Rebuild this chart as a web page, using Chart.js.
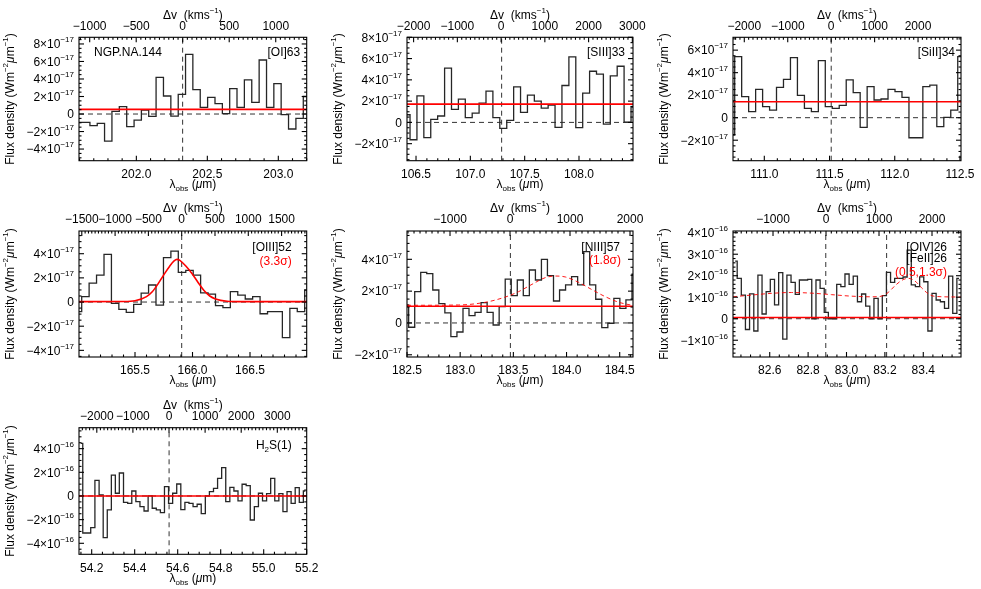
<!DOCTYPE html>
<html><head><meta charset="utf-8">
<script src="https://cdn.jsdelivr.net/npm/chart.js@4.4.1/dist/chart.umd.min.js"></script>
<style>
html,body{margin:0;padding:0;background:#fff;}
#wrap{position:relative;width:981px;height:589px;overflow:hidden;background:#fff;}
#wrap canvas{position:absolute;left:0;top:0;}
</style></head><body><div id="wrap"></div>
<script>
// ================= DATA (flux values in units of 10^exp W m^-2 um^-1) =================
// Panel 1: [OI]63
const p1Lambda = [201.595,201.647,201.699,201.750,201.802,201.854,201.906,201.958,202.010,202.061,202.113,202.165,202.217,202.269,202.321,202.372,202.424,202.476,202.528,202.580,202.632,202.683,202.735,202.787,202.839,202.891,202.943,202.994,203.046,203.098,203.150,203.202];
const p1Flux = [-0.95,-0.95,-1.33,-1.07,-3.09,0.3,0.84,-1.45,-0.69,0.46,-0.27,4.19,2.06,-0.23,2.25,6.82,2.78,0.76,1.9,1.18,0.04,2.9,0.76,3.89,1.33,6.17,0.76,3.47,-0.08,-1.71,-0.5,2.0];
const p1Continuum = 0.53;
const p1RestLambda = [202.326];
const p1XTicks = [202.0,202.5,203.0];
const p1YTicks = [-4,-2,0,2,4,6,8];
const p1VTicks = [-1000,-500,0,500,1000];

// Panel 2: [SIII]33
const p2Lambda = [106.413,106.477,106.540,106.604,106.667,106.731,106.795,106.858,106.922,106.985,107.049,107.112,107.176,107.239,107.303,107.367,107.430,107.494,107.557,107.621,107.684,107.748,107.811,107.875,107.939,108.002,108.066,108.129,108.193,108.256,108.320,108.383,108.447,108.511];
const p2Flux = [0.72,-1.63,2.5,-1.44,0.28,0.6,5.1,1.22,2.19,0.44,0.88,1.81,2.94,0.44,-0.56,0.19,3.34,0.94,2.56,2.0,1.34,1.63,-0.47,3.47,6.16,-0.5,2.75,4.81,4.53,-0.16,4.38,5.28,0.03,1.44];
const p2Continuum = 1.72;
const p2RestLambda = [107.288];
const p2XTicks = [106.5,107.0,107.5,108.0,108.5];
const p2YTicks = [-2,0,2,4,6,8];
const p2VTicks = [-2000,-1000,0,1000,2000,3000];

// Panel 3: [SiII]34
const p3Lambda = [110.746,110.800,110.853,110.907,110.960,111.014,111.067,111.120,111.174,111.227,111.281,111.334,111.388,111.441,111.494,111.548,111.601,111.655,111.708,111.762,111.815,111.868,111.922,111.975,112.029,112.082,112.136,112.189,112.242,112.296,112.349,112.403,112.456,112.510];
const p3Flux = [-1.54,5.42,1.87,0.53,2.52,0.98,0.68,2.7,3.41,5.33,1.99,0.83,0.53,5.07,0.98,0.83,1.1,3.35,2.22,-0.86,2.76,1.57,1.66,2.52,2.31,1.81,-1.78,-1.78,2.76,2.9,-0.8,0.03,0.68,5.42];
const p3Continuum = 1.42;
const p3RestLambda = [111.513];
const p3XTicks = [111.0,111.5,112.0,112.5];
const p3YTicks = [-2,0,2,4,6];
const p3VTicks = [-2000,-1000,0,1000,2000];

// Panel 4: [OIII]52
const p4Lambda = [165.004,165.069,165.133,165.198,165.263,165.327,165.392,165.456,165.521,165.586,165.650,165.715,165.780,165.844,165.909,165.974,166.038,166.103,166.168,166.232,166.297,166.361,166.426,166.491,166.555,166.620,166.685,166.749,166.814,166.879,166.943,167.008];
const p4Flux = [-0.8,0.44,1.57,2.23,3.94,-0.11,-0.61,-0.86,-0.19,0.74,1.41,-0.25,3.67,4.22,2.46,2.62,2.23,0.75,0.65,-0.3,-0.47,0.86,0.58,0.25,0.44,-0.97,-0.8,-0.8,-2.95,-0.52,-0.8,0.99];
const p4FitLambda = [165.013,165.4,165.5,165.6,165.65,165.7,165.75,165.8,165.84,165.865,165.89,165.94,166.0,166.05,166.1,166.15,166.2,166.3,166.4,166.993];
const p4FitFlux = [0.03,0.04,0.1,0.45,0.85,1.5,2.25,2.95,3.4,3.53,3.45,3.0,2.3,1.6,0.95,0.5,0.25,0.06,0.03,0.03];
const p4RestLambda = [165.906];
const p4XTicks = [165.0,165.5,166.0,166.5,167.0];
const p4YTicks = [-4,-2,0,2,4];
const p4VTicks = [-1500,-1000,-500,0,500,1000,1500];

// Panel 5: [NIII]57
const p5Lambda = [182.487,182.544,182.601,182.657,182.714,182.771,182.828,182.884,182.941,182.998,183.055,183.111,183.168,183.225,183.282,183.338,183.395,183.452,183.509,183.565,183.622,183.679,183.736,183.792,183.849,183.906,183.963,184.019,184.076,184.133,184.190,184.246,184.303,184.360,184.417,184.473,184.530,184.587,184.644];
const p5Flux = [1.13,-0.27,1.97,3.18,3.1,2.07,1.21,0.63,-0.86,-0.57,0.92,0.46,0.67,1.28,0.67,-0.13,1.03,2.76,1.72,2.7,1.72,3.33,2.7,4.0,2.97,1.38,2.07,2.39,2.91,2.39,4.48,2.39,1.49,-0.29,-0.02,1.55,0.92,1.45,3.06];
const p5FitLambda = [182.5,182.986,183.237,183.425,183.550,183.676,183.801,183.895,183.989,184.114,184.240,184.365,184.491,184.632];
const p5FitFlux = [1.11,1.13,1.3,1.63,1.97,2.43,2.85,2.95,2.89,2.55,2.09,1.65,1.3,1.09];
const p5Continuum = 1.05;
const p5RestLambda = [183.472];
const p5XTicks = [182.5,183.0,183.5,184.0,184.5];
const p5YTicks = [-2,0,2,4];
const p5VTicks = [-1000,0,1000,2000];

// Panel 6: [OIV]26 / [FeII]26
const p6Lambda = [82.420,82.441,82.463,82.484,82.506,82.528,82.549,82.571,82.592,82.614,82.636,82.657,82.679,82.700,82.722,82.744,82.765,82.787,82.808,82.830,82.852,82.873,82.895,82.916,82.938,82.960,82.981,83.003,83.024,83.046,83.068,83.089,83.111,83.132,83.154,83.176,83.197,83.219,83.240,83.262,83.284,83.305,83.327,83.348,83.370,83.392,83.413,83.435,83.456,83.478,83.500,83.521,83.543,83.564,83.586];
const p6Flux = [2.68,1.88,1.1,-0.5,1.16,-0.57,2.03,0.22,1.26,1.83,0.64,2.14,-0.95,2.03,1.69,1.13,1.8,1.8,1.83,0,1.8,1.41,0.3,0,0,1.6,1.49,2.08,1.6,1.98,0.79,1.15,0.59,0,0.95,0,1.07,2.16,1.69,1.88,1.88,1.94,3.19,1.57,1.49,1.95,1.72,-0.57,1.18,0.87,0.79,0.48,1.98,0.25,1.88];
const p6FitLambda = [82.409,82.504,82.609,82.713,82.817,82.922,83.026,83.130,83.183,83.217,83.252,83.287,83.322,83.357,83.391,83.426,83.461,83.597];
const p6FitFlux = [1.02,1.10,1.18,1.22,1.19,1.12,1.05,1.02,1.05,1.22,1.53,1.78,1.88,1.75,1.44,1.16,1.04,1.01];
const p6Continuum = 0.06;
const p6RestLambda = [82.892,83.209];
const p6XTicks = [82.6,82.8,83.0,83.2,83.4,83.6];
const p6YTicks = [-1,0,1,2,3,4];
const p6VTicks = [-1000,0,1000,2000];

// Panel 7: H2 S(1)
const p7Lambda = [54.149,54.168,54.186,54.205,54.225,54.244,54.263,54.282,54.301,54.319,54.338,54.358,54.377,54.396,54.415,54.434,54.453,54.472,54.491,54.510,54.529,54.548,54.567,54.586,54.605,54.624,54.643,54.662,54.681,54.700,54.719,54.738,54.757,54.776,54.795,54.814,54.833,54.852,54.871,54.890,54.909,54.928,54.947,54.966,54.985,55.004,55.023,55.042,55.061,55.080,55.099,55.118,55.137,55.156,55.175,55.194];
const p7Flux = [4.45,-3.13,-3.13,-2.68,1.32,0.08,-3.52,-1.18,1.77,0.23,1.94,-0.54,-0.62,0.42,-0.48,-0.9,-1.27,0,-1.04,-1.18,-1.41,0.79,-0.62,0.23,1.01,-1.15,-0.54,-0.62,-0.9,-0.7,-1.49,0,0.37,0.65,1.49,2.39,-0.48,0.73,0.42,-0.42,0.99,0.87,-2.03,-0.9,0.23,-0.42,0.2,1.49,-0.42,0.2,-1.32,0.37,-0.62,0.7,-0.54,0.42];
const p7Continuum = 0;
const p7RestLambda = [54.560];
const p7XTicks = [54.2,54.4,54.6,54.8,55.0,55.2];
const p7YTicks = [-4,-2,0,2,4];
const p7VTicks = [-2000,-1000,0,1000,2000,3000];

// ================= LAYOUT / STYLE =================
const W = 981, H = 589;
const FONT = '"Liberation Sans", Arial, Helvetica, sans-serif';
const FS = 12;
const SUP = 8;

const panels = [
 {id:1, box:[79,37.3,306.7,160.7], lam:p1Lambda, flux:p1Flux, exp:-17, xr:[201.596,203.2], yr:[-5.33,8.76], vr:[-1115,1333],
  xTicks:p1XTicks, yTicks:p1YTicks, vTicks:p1VTicks, xMinor:5, yMinor:4, vMinor:10, cont:p1Continuum, rest:p1RestLambda,
  texts:[{parts:[{t:'NGP.NA.144'}], side:'left', dx:15, dy:14.5},{parts:[{t:'[OI]63'}], side:'right', dx:6.5, dy:14.5}]},
 {id:2, box:[407,37.3,633,160.7], lam:p2Lambda, flux:p2Flux, exp:-17, xr:[106.417,108.497], yr:[-3.6,8.0], vr:[-2151,3015],
  xTicks:p2XTicks, yTicks:p2YTicks, vTicks:p2VTicks, xMinor:5, yMinor:4, vMinor:10, cont:p2Continuum, rest:p2RestLambda,
  texts:[{parts:[{t:'[SIII]33'}], side:'right', dx:8, dy:14.5}]},
 {id:3, box:[733,37.3,961,160.7], lam:p3Lambda, flux:p3Flux, exp:-17, xr:[110.760,112.508], yr:[-3.82,7.14], vr:[-2260,2989],
  xTicks:p3XTicks, yTicks:p3YTicks, vTicks:p3VTicks, xMinor:5, yMinor:4, vMinor:10, cont:p3Continuum, rest:p3RestLambda,
  texts:[{parts:[{t:'[SiII]34'}], side:'right', dx:6, dy:14.5}]},
 {id:4, box:[79,231,306.7,357], lam:p4Lambda, flux:p4Flux, exp:-17, xr:[165.013,166.993], yr:[-4.55,5.88], vr:[-1542,1877],
  xTicks:p4XTicks, yTicks:p4YTicks, vTicks:p4VTicks, xMinor:5, yMinor:4, vMinor:10, cont:null, rest:p4RestLambda,
  fit:{x:p4FitLambda, y:p4FitFlux, dashed:false},
  texts:[{parts:[{t:'[OIII]52'}], side:'right', dx:15, dy:15.7},{parts:[{t:'(3.3σ)'}], side:'right', dx:15, dy:29.7, color:'#ff0000'}]},
 {id:5, box:[407,231,633,357], lam:p5Lambda, flux:p5Flux, exp:-17, xr:[182.5,184.625], yr:[-2.14,5.78], vr:[-1717,2050],
  xTicks:p5XTicks, yTicks:p5YTicks, vTicks:p5VTicks, xMinor:5, yMinor:4, vMinor:10, cont:p5Continuum, rest:p5RestLambda,
  fit:{x:p5FitLambda, y:p5FitFlux, dashed:true},
  texts:[{parts:[{t:'[NIII]57'}], side:'right', dx:13, dy:15.7},{parts:[{t:'(1.8σ)'}], side:'right', dx:12, dy:29, color:'#ff0000'}]},
 {id:6, box:[733,231,961,357], lam:p6Lambda, flux:p6Flux, exp:-16, xr:[82.4087,83.5965], yr:[-1.78,4.08], vr:[-1755,2547],
  xTicks:p6XTicks, yTicks:p6YTicks, vTicks:p6VTicks, xMinor:4, yMinor:5, vMinor:10, cont:p6Continuum, rest:p6RestLambda,
  fit:{x:p6FitLambda, y:p6FitFlux, dashed:true},
  texts:[{parts:[{t:'[OIV]26'}], side:'right', dx:14, dy:15.7},{parts:[{t:'[FeII]26'}], side:'right', dx:14, dy:26.5},
         {parts:[{t:'(0.5,1.3σ)'}], side:'right', dx:14, dy:40.7, color:'#ff0000'}]},
 {id:7, box:[79,427.7,306.7,554.3], lam:p7Lambda, flux:p7Flux, exp:-16, xr:[54.141,55.2], yr:[-4.93,5.77], vr:[-2493,3814],
  xTicks:p7XTicks, yTicks:p7YTicks, vTicks:p7VTicks, xMinor:4, yMinor:4, vMinor:10, cont:p7Continuum, rest:p7RestLambda,
  texts:[{parts:[{t:'H'},{t:'2',s:SUP,dy:3},{t:'S(1)'}], side:'right', dx:15, dy:17.3}]}
];

// ================= HELPERS =================
function setFont(ctx, size, italic){ ctx.font = (italic ? 'italic ' : '') + size + 'px ' + FONT; }
function richWidth(ctx, parts){
  let w = 0;
  for (const p of parts){ setFont(ctx, p.s || FS, p.i); w += ctx.measureText(p.t).width; }
  return w;
}
function drawRich(ctx, parts, x, y, align){
  const w = richWidth(ctx, parts);
  let cx = align === 'right' ? x - w : (align === 'center' ? x - w / 2 : x);
  ctx.textAlign = 'left'; ctx.textBaseline = 'alphabetic';
  const base = y + FS * 0.36;
  for (const p of parts){
    setFont(ctx, p.s || FS, p.i);
    ctx.fillText(p.t, cx, base + (p.dy || 0));
    cx += ctx.measureText(p.t).width;
  }
}
function tickSets(min, max, majors, nMinor){
  const step = majors[1] - majors[0];
  const eps = Math.abs(step) * 1e-6;
  const lo = Math.min(min, max), hi = Math.max(min, max);
  const maj = majors.filter(v => v >= lo - eps && v <= hi + eps);
  const ms = step / nMinor;
  const mins = [];
  const k0 = Math.ceil((lo - majors[0]) / ms - 1e-6), k1 = Math.floor((hi - majors[0]) / ms + 1e-6);
  for (let k = k0; k <= k1; k++){
    if (((k % nMinor) + nMinor) % nMinor === 0) continue;
    mins.push(majors[0] + k * ms);
  }
  return {maj, mins};
}
function fmtSigned(v, dec){
  const s = Math.abs(v).toFixed(dec);
  return v < 0 ? '−' + s : s;
}

function decoPlugin(cfg){
  return {
    id: 'deco' + cfg.id,
    afterDraw(chart){
      const ctx = chart.ctx, ca = chart.chartArea;
      const sx = chart.scales.x, sy = chart.scales.y, sv = chart.scales.v;
      const sc = Math.pow(10, cfg.exp);
      const L = ca.left, R = ca.right, T = ca.top, B = ca.bottom;
      ctx.save();
      ctx.strokeStyle = '#000'; ctx.fillStyle = '#000'; ctx.lineWidth = 1.1;
      ctx.setLineDash([]);
      ctx.strokeRect(L, T, R - L, B - T);
      const seg = (x1, y1, x2, y2) => { ctx.beginPath(); ctx.moveTo(x1, y1); ctx.lineTo(x2, y2); ctx.stroke(); };
      const MAJ = 5, MIN = 2.5;
      // bottom (wavelength)
      const tx = tickSets(sx.min, sx.max, cfg.xTicks, cfg.xMinor);
      tx.maj.forEach(v => { const p = sx.getPixelForValue(v); seg(p, B, p, B - MAJ); });
      tx.mins.forEach(v => { const p = sx.getPixelForValue(v); seg(p, B, p, B - MIN); });
      // top (velocity)
      const tv = tickSets(sv.min, sv.max, cfg.vTicks, cfg.vMinor);
      tv.maj.forEach(v => { const p = sv.getPixelForValue(v); seg(p, T, p, T + MAJ); });
      tv.mins.forEach(v => { const p = sv.getPixelForValue(v); seg(p, T, p, T + MIN); });
      // left & right (flux)
      const ty = tickSets(sy.min / sc, sy.max / sc, cfg.yTicks, cfg.yMinor);
      ty.maj.forEach(v => { const p = sy.getPixelForValue(v * sc); seg(L, p, L + MAJ, p); seg(R, p, R - MAJ, p); });
      ty.mins.forEach(v => { const p = sy.getPixelForValue(v * sc); seg(L, p, L + MIN, p); seg(R, p, R - MIN, p); });
      // tick labels
      ctx.fillStyle = '#000';
      tx.maj.forEach(v => drawRich(ctx, [{t: v.toFixed(1)}], sx.getPixelForValue(v), B + 13, 'center'));
      tv.maj.forEach(v => drawRich(ctx, [{t: fmtSigned(v, 0)}], sv.getPixelForValue(v), T - 12, 'center'));
      ty.maj.forEach(v => {
        const p = sy.getPixelForValue(v * sc);
        const r = Math.round(v * 1000) / 1000;
        const parts = r === 0 ? [{t:'0'}] : [{t: fmtSigned(r, 0) + '×10'}, {t: '−' + Math.abs(cfg.exp), s: SUP, dy: -6}];
        drawRich(ctx, parts, L - 5, p, 'right');
      });
      // axis titles
      const cxm = (L + R) / 2;
      drawRich(ctx, [{t:'Δv  (kms'}, {t:'−1', s:SUP, dy:-6}, {t:')'}], cxm, T - 23, 'center');
      drawRich(ctx, [{t:'λ'}, {t:'obs', s:SUP, dy:3}, {t:' ('}, {t:'μ', i:true}, {t:'m)'}], cxm, B + 23, 'center');
      ctx.save();
      ctx.translate(L - 69, (T + B) / 2);
      ctx.rotate(-Math.PI / 2);
      drawRich(ctx, [{t:'Flux density (Wm'}, {t:'−2', s:SUP, dy:-6}, {t:'μ', i:true}, {t:'m'}, {t:'−1', s:SUP, dy:-6}, {t:')'}], 0, 0, 'center');
      ctx.restore();
      // annotations
      cfg.texts.forEach(tt => {
        ctx.fillStyle = tt.color || '#000';
        const x = tt.side === 'left' ? L + tt.dx : R - tt.dx;
        drawRich(ctx, tt.parts, x, T + tt.dy, tt.side === 'left' ? 'left' : 'right');
      });
      ctx.restore();
    }
  };
}

// ================= BUILD CHARTS =================
const wrap = document.getElementById('wrap');
panels.forEach(cfg => {
  const canvas = document.createElement('canvas');
  canvas.width = W; canvas.height = H;
  canvas.style.width = W + 'px'; canvas.style.height = H + 'px';
  wrap.appendChild(canvas);
  const sc = Math.pow(10, cfg.exp);
  const pts = (xs, ys) => xs.map((x, i) => ({x: x, y: ys[i] * sc}));
  const [L, T, R, B] = cfg.box;
  const ymin = cfg.yr[0] * sc, ymax = cfg.yr[1] * sc;
  const datasets = [];
  if (cfg.fit){
    datasets.push({data: pts(cfg.fit.x, cfg.fit.y), borderColor: '#ff0000',
      borderWidth: cfg.fit.dashed ? 0.9 : 1.6, borderDash: cfg.fit.dashed ? [4, 3] : [],
      cubicInterpolationMode: 'monotone', pointRadius: 0, fill: false, order: 0});
  }
  if (cfg.cont !== null){
    datasets.push({data: [{x: cfg.xr[0], y: cfg.cont * sc}, {x: cfg.xr[1], y: cfg.cont * sc}],
      borderColor: '#ff0000', borderWidth: 1.6, pointRadius: 0, fill: false, order: 1});
  }
  datasets.push({data: pts(cfg.lam, cfg.flux), borderColor: '#262626', borderWidth: 1.3,
    stepped: 'middle', pointRadius: 0, fill: false, order: 2});
  datasets.push({data: [{x: cfg.xr[0], y: 0}, {x: cfg.xr[1], y: 0}], borderColor: '#333',
    borderWidth: 1, borderDash: [5, 4], pointRadius: 0, fill: false, order: 3});
  cfg.rest.forEach(l0 => {
    datasets.push({data: [{x: l0, y: ymin}, {x: l0, y: ymax}], borderColor: '#333',
      borderWidth: 1, borderDash: [5, 4], pointRadius: 0, fill: false, order: 3});
  });
  new Chart(canvas, {
    type: 'line',
    data: {datasets},
    options: {
      responsive: false, animation: false, events: [],
      layout: {padding: {left: L, top: T, right: W - R, bottom: H - B}},
      plugins: {legend: {display: false}, tooltip: {enabled: false}},
      scales: {
        x: {type: 'linear', min: cfg.xr[0], max: cfg.xr[1], display: false},
        v: {type: 'linear', axis: 'x', position: 'top', min: cfg.vr[0], max: cfg.vr[1], display: false},
        y: {type: 'linear', min: ymin, max: ymax, display: false}
      }
    },
    plugins: [decoPlugin(cfg)]
  });
});
</script>
</body></html>
